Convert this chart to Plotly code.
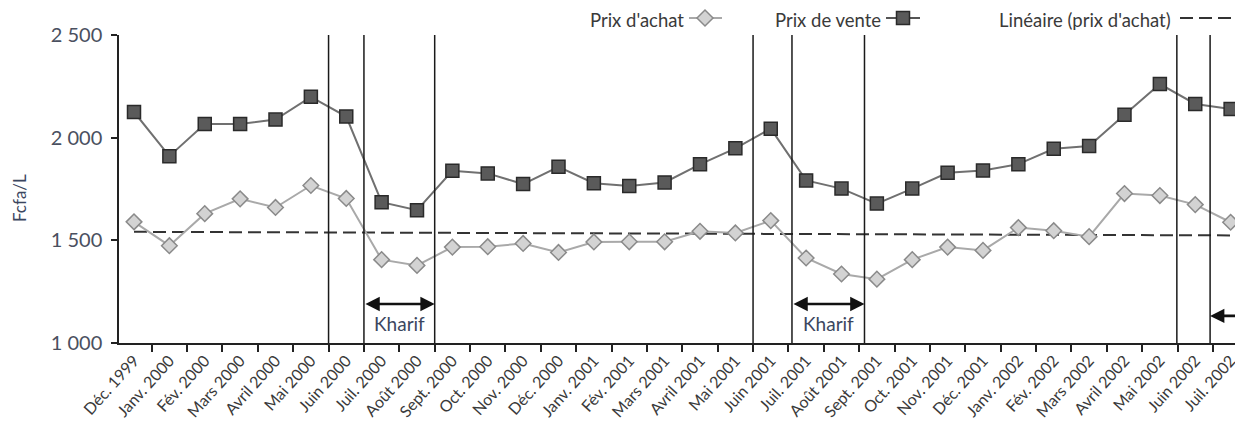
import numpy as np
import plotly.graph_objects as go

# ---------------- data ----------------
months = ["Déc. 1999", "Janv. 2000", "Fév. 2000", "Mars 2000", "Avril 2000", "Mai 2000",
          "Juin 2000", "Juil. 2000", "Août 2000", "Sept. 2000", "Oct. 2000", "Nov. 2000",
          "Déc. 2000", "Janv. 2001", "Fév. 2001", "Mars 2001", "Avril 2001", "Mai 2001",
          "Juin 2001", "Juil. 2001", "Août 2001", "Sept. 2001", "Oct. 2001", "Nov. 2001",
          "Déc. 2001", "Janv. 2002", "Fév. 2002", "Mars 2002", "Avril 2002", "Mai 2002",
          "Juin 2002", "Juil. 2002"]

prix_achat = [1590, 1474, 1630, 1702, 1660, 1767, 1704, 1406, 1378, 1467, 1469, 1485,
              1441, 1492, 1493, 1493, 1544, 1536, 1596, 1414, 1336, 1311, 1406, 1467,
              1451, 1562, 1547, 1518, 1728, 1718, 1674, 1588]

prix_vente = [2125, 1910, 2067, 2067, 2088, 2199, 2103, 1686, 1647, 1839, 1826, 1774,
              1858, 1778, 1765, 1782, 1870, 1948, 2044, 1792, 1752, 1679, 1752, 1829,
              1840, 1871, 1946, 1959, 2111, 2261, 2164, 2140]

y_tick_vals = [1000, 1500, 2000, 2500]
y_tick_text = ["1 000", "1 500", "2 000", "2 500"]

# season separators (category-index positions) and Kharif periods
season_lines = [5.5, 6.5, 8.5, 17.5, 18.6, 20.65, 29.48, 30.42]
kharif_periods = [(6.5, 8.5), (18.6, 20.65)]
kharif_label = "Kharif"
kharif_arrow_y = 1190
kharif_text_y = 1097
open_arrow_start = 30.42
open_arrow_y = 1132

# ---------------- figure geometry ----------------
OFF = 8                      # page body margin
W, H = 1243 - OFF, 425 - OFF
PL, PR, PT, PB = 119 - OFF, 1243 - OFF, 35 - OFF, 343 - OFF  # plot area (figure px)
FONT = "Lato"
TXT = "#3a3a3a"


def px(x):  # window pixel -> paper
    return (x - OFF - PL) / (PR - PL)


def py(y):
    return (PB - (y - OFF)) / (PB - PT)


# linear trend of purchase price
idx = np.arange(len(prix_achat))
coef = np.polyfit(idx, prix_achat, 1)
trend = np.polyval(coef, idx)

fig = go.Figure()

fig.add_trace(go.Scatter(
    x=months, y=trend, mode="lines",
    line=dict(color="#333333", width=2, dash="13px,6px"),
    showlegend=False, hoverinfo="skip"))

fig.add_trace(go.Scatter(
    x=months, y=prix_achat, mode="lines+markers", name="Prix d'achat",
    line=dict(color="#a9a9a9", width=2),
    marker=dict(symbol="diamond", size=12, color="#d3d3d3",
                line=dict(color="#8a8a8a", width=1.5)),
    showlegend=False))

fig.add_trace(go.Scatter(
    x=months, y=prix_vente, mode="lines+markers", name="Prix de vente",
    line=dict(color="#707070", width=2),
    marker=dict(symbol="square", size=13, color="#5a5a5a",
                line=dict(color="#2a2a2a", width=1.5)),
    showlegend=False))

shapes = []
for xv in season_lines:
    shapes.append(dict(type="line", xref="x", yref="y", x0=xv, x1=xv, y0=1000, y1=2500,
                       line=dict(color="#1a1a1a", width=1.5)))

annotations = []
for a, b in kharif_periods:
    annotations.append(dict(x=b, y=kharif_arrow_y, ax=a, ay=kharif_arrow_y,
                            xref="x", yref="y", axref="x", ayref="y", text="",
                            showarrow=True, arrowhead=2, arrowside="end+start",
                            arrowsize=1.1, arrowwidth=2.6, arrowcolor="#111111",
                            standoff=0, startstandoff=0))
    annotations.append(dict(x=(a + b) / 2, y=kharif_text_y, xref="x", yref="y",
                            text=kharif_label, showarrow=False,
                            xanchor="center", yanchor="middle",
                            font=dict(family=FONT, size=19, color="#3b4660")))

annotations.append(dict(x=open_arrow_start, y=open_arrow_y, ax=31.6, ay=open_arrow_y,
                        xref="x", yref="y", axref="x", ayref="y", text="",
                        showarrow=True, arrowhead=2, arrowsize=1.1, arrowwidth=2.6,
                        arrowcolor="#111111", standoff=0))

# y-axis title
annotations.append(dict(x=px(19), y=py(198), xref="paper", yref="paper", text="Fcfa/L",
                        textangle=-90, showarrow=False, xanchor="center", yanchor="middle",
                        font=dict(family=FONT, size=17, color="#3b4660")))

# custom legend (text followed by key)
LEG_Y = 18
leg_font = dict(family=FONT, size=18.5, color="#3a3a3a")
legend_items = [("Prix d'achat", 685), ("Prix de vente", 882), ("Linéaire (prix d'achat)", 1172)]
for txt, xr in legend_items:
    annotations.append(dict(x=px(xr), y=py(LEG_Y + 2), xref="paper", yref="paper", text=txt,
                            showarrow=False, xanchor="right", yanchor="middle",
                            borderpad=0, font=leg_font))

# key 1: diamond
shapes.append(dict(type="line", xref="paper", yref="paper", x0=px(689), x1=px(722),
                   y0=py(LEG_Y), y1=py(LEG_Y), line=dict(color="#a9a9a9", width=2)))
cx, cy, r = 705, LEG_Y, 8
shapes.append(dict(type="path", xref="paper", yref="paper",
                   path=f"M {px(cx-r)},{py(cy)} L {px(cx)},{py(cy-r)} L {px(cx+r)},{py(cy)} L {px(cx)},{py(cy+r)} Z",
                   fillcolor="#d3d3d3", line=dict(color="#8a8a8a", width=1.5)))
# key 2: square
shapes.append(dict(type="line", xref="paper", yref="paper", x0=px(886), x1=px(920),
                   y0=py(LEG_Y), y1=py(LEG_Y), line=dict(color="#555555", width=2)))
cx, r = 903, 6.5
shapes.append(dict(type="rect", xref="paper", yref="paper", x0=px(cx - r), x1=px(cx + r),
                   y0=py(LEG_Y + r), y1=py(LEG_Y - r), fillcolor="#5a5a5a",
                   line=dict(color="#2a2a2a", width=1.5)))
# key 3: dashed line
shapes.append(dict(type="line", xref="paper", yref="paper", x0=px(1180), x1=px(1243),
                   y0=py(LEG_Y), y1=py(LEG_Y), line=dict(color="#333333", width=2, dash="13px,6px")))

fig.update_layout(
    width=W, height=H,
    margin=dict(l=PL, r=W - PR, t=PT, b=H - PB),
    paper_bgcolor="white", plot_bgcolor="white",
    font=dict(family=FONT, color=TXT),
    shapes=shapes, annotations=annotations,
    showlegend=False,
    xaxis=dict(type="category", range=[-0.424, 31.35], showgrid=False, zeroline=False,
               showline=True, linecolor="#222222", linewidth=2,
               ticks="outside", ticklen=7, tickwidth=1.5, tickcolor="#222222",
               tickson="boundaries", tickangle=-48,
               tickfont=dict(family=FONT, size=16, color=TXT), automargin=False),
    yaxis=dict(range=[1000, 2500], showgrid=False, zeroline=False,
               showline=True, linecolor="#222222", linewidth=1.5,
               ticks="outside", ticklen=6, tickwidth=1.5, tickcolor="#222222",
               tickvals=y_tick_vals, ticktext=y_tick_text, ticklabelstandoff=5,
               tickfont=dict(family=FONT, size=20, color="#4a5060"), automargin=False),
)

fig.write_html("out.html")
